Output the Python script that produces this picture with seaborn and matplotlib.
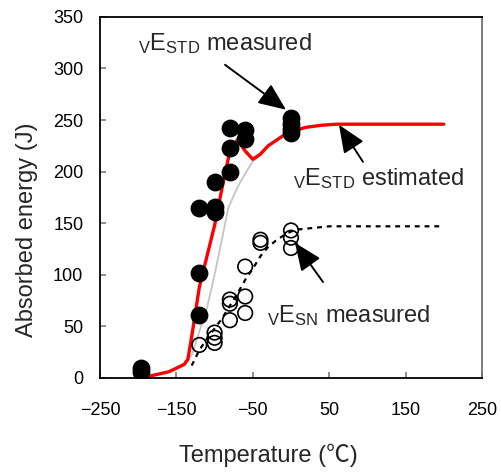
import matplotlib
matplotlib.use("Agg")
import matplotlib.pyplot as plt
import seaborn as sns

# ---------------- data ----------------
# vE_STD measured (filled circles)
T_std = [-196, -196, -120, -120, -120, -100, -100, -100, -80, -80, -80, -60, -60, 0, 0, 0, 0]
E_std = [10, 6, 102, 61, 165, 166, 161, 190, 200, 223, 242, 240, 232, 252, 246, 241, 237]

# vE_SN measured (open circles)
T_sn = [-120, -100, -100, -100, -80, -80, -80, -60, -60, -60, -40, -40, 0, 0, 0]
E_sn = [32, 44, 39, 34, 76, 72, 56, 108, 79, 63, 134, 131, 143, 136, 126]

# vE_STD estimated (red line)
T_red = [-190, -160, -140, -135, -130, -120, -110, -100, -90, -80, -70, -60, -50,
         -40, -30, -20, -10, 0, 20, 40, 60, 200]
E_red = [1, 6, 13, 18, 40, 88, 118, 148, 185, 220, 231, 220, 212,
         217, 225, 230, 235, 239, 243, 245, 246, 246]

# grey reference curve
T_gray = [-190, -160, -140, -130, -120, -110, -100, -90, -82, -70, -60, -50, -40]
E_gray = [1, 6, 14, 22, 45, 68, 100, 136, 165, 185, 198, 210, 216]

# vE_SN estimated (dotted line)
T_dot = [-130, -120, -110, -100, -90, -80, -70, -60, -50, -40, -30, -20, -10, 0, 10, 50, 200]
E_dot = [12, 27, 38, 48, 58, 70, 82, 95, 106, 118, 127, 133, 138, 142, 144, 147, 147]

x_ticks = [-250, -150, -50, 50, 150, 250]
y_ticks = [0, 50, 100, 150, 200, 250, 300, 350]

# ---------------- style ----------------
sns.set_theme(style="ticks")
plt.rcParams["font.family"] = ["Liberation Sans", "Noto Sans CJK JP", "DejaVu Sans"]
plt.rcParams["mathtext.fontset"] = "custom"
plt.rcParams["mathtext.rm"] = "Liberation Sans"
plt.rcParams["mathtext.it"] = "Liberation Sans:italic"
plt.rcParams["mathtext.bf"] = "Liberation Sans:bold"
plt.rcParams["axes.unicode_minus"] = True

fig = plt.figure(figsize=(5.01, 4.72), dpi=100)
ax = fig.add_axes([0.1996, 0.1992, 0.7625, 0.765])

sns.lineplot(x=T_gray, y=E_gray, color="#c4c4c4", lw=1.3, ax=ax, zorder=1, sort=False)
sns.lineplot(x=T_red, y=E_red, color="#ff0000", lw=2.4, ax=ax, zorder=2, sort=False)
sns.lineplot(x=T_dot, y=E_dot, color="black", lw=1.6, ax=ax, zorder=2, sort=False,
             linestyle=(0, (2.2, 2.2)))

ax.scatter(T_std, E_std, s=140, color="black", edgecolors="black", zorder=4)
ax.scatter(T_sn, E_sn, s=110, facecolors="none", edgecolors="black", linewidths=1.2, zorder=4)

ax.set_xlim(-250, 250)
ax.set_ylim(0, 350)
ax.set_xticks(x_ticks)
ax.set_yticks(y_ticks)
ax.tick_params(axis="both", direction="in", length=4, color="#808080", labelsize=13,
               labelcolor="black")
ax.tick_params(axis="x", pad=17)
ax.tick_params(axis="y", pad=12)

for side in ["left", "bottom", "top"]:
    ax.spines[side].set_color("black")
    ax.spines[side].set_linewidth(1.3)
ax.spines["right"].set_color("#707070")
ax.spines["right"].set_linewidth(1.3)

ax.set_xlabel("Temperature (℃)", fontsize=17,
              family=["Liberation Sans", "Noto Sans CJK JP", "DejaVu Sans"])
ax.set_ylabel("Absorbed energy (J)", fontsize=17)
ax.xaxis.set_label_coords(0.44, -0.183)
ax.yaxis.set_label_coords(-0.162, 0.41)

# ---------------- annotations ----------------
fs = 17
ax.text(-200, 318, r"${}_{\mathrm{V}}\mathrm{E}_{\mathrm{STD}}$ measured", fontsize=fs,
        ha="left", va="baseline")
ax.text(2, 187, r"${}_{\mathrm{V}}\mathrm{E}_{\mathrm{STD}}$ estimated", fontsize=fs,
        ha="left", va="baseline")
ax.text(-31, 54, r"${}_{\mathrm{V}}\mathrm{E}_{\mathrm{SN}}$ measured", fontsize=fs,
        ha="left", va="baseline")

arrow_kw = dict(arrowstyle="-|>,head_length=0.85,head_width=0.36", color="black",
                lw=1.4, shrinkA=0, shrinkB=0, mutation_scale=20)
ax.annotate("", xy=(-6.5, 260), xytext=(-86.4, 303.6), arrowprops=arrow_kw)
ax.annotate("", xy=(62.8, 245.4), xytext=(94.2, 209.5), arrowprops=arrow_kw)
ax.annotate("", xy=(5.2, 131), xytext=(41.9, 93), arrowprops=arrow_kw)

fig.savefig("out.png", dpi=100)
